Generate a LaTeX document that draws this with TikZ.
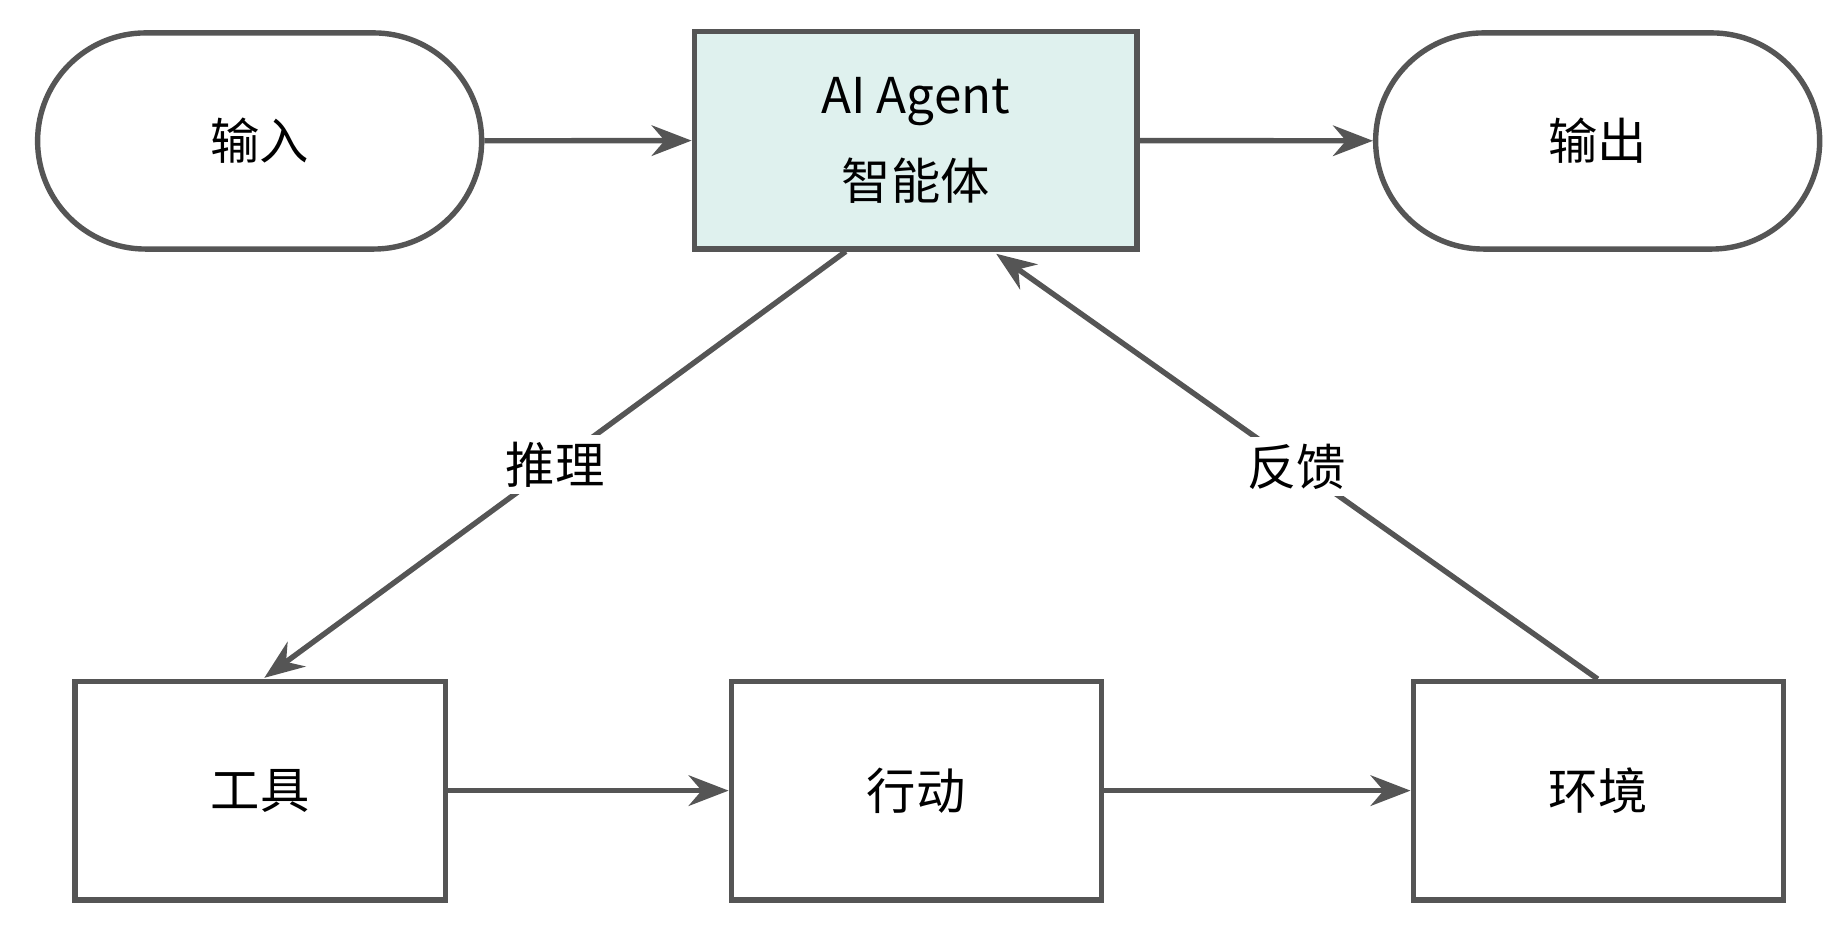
\documentclass[tikz,border=0pt]{standalone}
\usepackage{fontspec}
\setmainfont{Noto Sans CJK SC}
\usetikzlibrary{arrows.meta}
\definecolor{ln}{HTML}{555555}
\definecolor{teal}{HTML}{DFF1EE}
\tikzset{
  pill/.style={draw=ln,line width=2.3pt,rounded corners=46pt,minimum width=189pt,minimum height=92pt,font=\fontsize{21}{25}\selectfont},
  boxx/.style={draw=ln,line width=2.3pt,minimum width=157.5pt,minimum height=93pt,font=\fontsize{21}{25}\selectfont},
  arr/.style={draw=ln,line width=2.3pt,-{Stealth[length=17pt,width=13pt]}},
  lab/.style={fill=white,font=\fontsize{21}{25}\selectfont,inner sep=3pt}
}
\begin{document}
\begin{tikzpicture}[x=0.5pt,y=-0.5pt]
\useasboundingbox (0,0) rectangle (1568,789);
\fill[white] (0,0) rectangle (1568,789);
\node[pill] (in) at (221,120) {输入};
\node[pill] (out) at (1360,120) {输出};
\node[boxx,fill=teal,minimum width=188.5pt,minimum height=92.5pt,align=center] (ai) at (779.5,119.5) {AI Agent\\[12pt]智能体};
\node[boxx] (tool) at (221.5,673) {工具};
\node[boxx] (act) at (780,673) {行动};
\node[boxx] (env) at (1360.5,673) {环境};
\draw[arr] (in) -- (ai);
\draw[arr] (ai) -- (out);
\draw[arr] (tool) -- (act);
\draw[arr] (act) -- (env);
\coordinate (a1) at (720,214);
\coordinate (t1) at (225,577);
\coordinate (e1) at (1360,578);
\coordinate (a2) at (848,216);
\draw[arr] (a1) -- node[lab,pos=0.5]{推理} (t1);
\draw[arr] (e1) -- node[lab,pos=0.5]{反馈} (a2);
\end{tikzpicture}
\end{document}
